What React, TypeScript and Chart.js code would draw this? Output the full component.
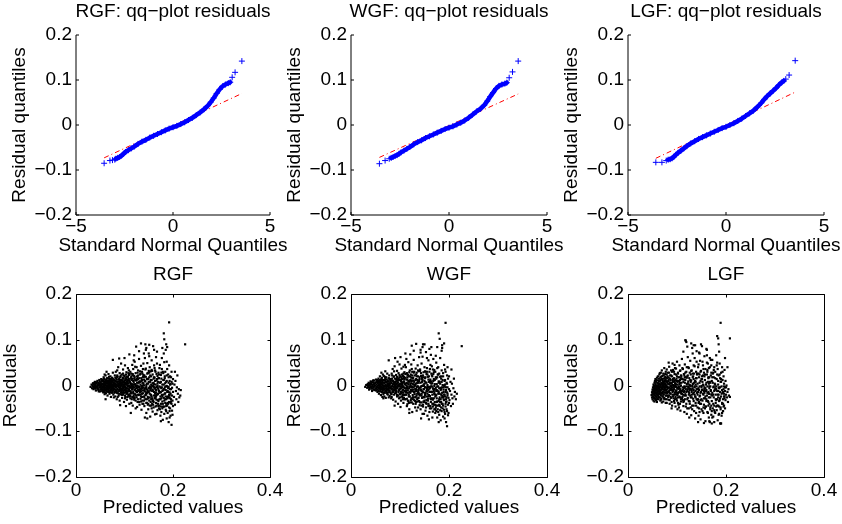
import React, { useEffect, useRef } from 'react';
import { Chart, registerables } from 'chart.js';

Chart.register(...registerables);

const FONT_FAMILY = '"Liberation Sans", Arial, Helvetica, sans-serif';
const FONT_SIZE = 19;

// ---- tick labels ----
const residualTickValues = [-0.2, -0.1, 0, 0.1, 0.2];
const quantileTickValues = [-5, 0, 5];
const predictedTickValues = [0, 0.2, 0.4];

// ---- panel names ----
const modelNames = ['RGF', 'WGF', 'LGF'];

// ---- qq-plot data: [standard normal quantile, residual quantile] ----
const rgfQQ = [
  [-3.55, -0.085], [-3.25, -0.079], [-3.12, -0.078], [-3.0, -0.077],
  [-2.95, -0.075], [-2.85, -0.073], [-2.75, -0.071], [-2.65, -0.068], [-2.55, -0.064], [-2.45, -0.06],
  [-2.3, -0.056], [-2.15, -0.052], [-2.0, -0.048], [-1.8, -0.042], [-1.6, -0.037], [-1.4, -0.033],
  [-1.2, -0.028], [-1.0, -0.024], [-0.8, -0.02], [-0.6, -0.016], [-0.4, -0.012], [-0.2, -0.008],
  [0, -0.005], [0.2, -0.002], [0.4, 0.002], [0.6, 0.006], [0.8, 0.011], [1.0, 0.016], [1.2, 0.022],
  [1.4, 0.028], [1.6, 0.035], [1.8, 0.043], [1.95, 0.051], [2.1, 0.06], [2.25, 0.07], [2.4, 0.079],
  [2.55, 0.086], [2.7, 0.09], [2.85, 0.093], [2.95, 0.095],
  [3.05, 0.106], [3.2, 0.117], [3.55, 0.142],
];
const wgfQQ = [
  [-3.55, -0.086], [-3.26, -0.079], [-3.05, -0.075],
  [-2.95, -0.073], [-2.85, -0.071], [-2.75, -0.069], [-2.65, -0.067], [-2.55, -0.064], [-2.45, -0.061],
  [-2.3, -0.057], [-2.15, -0.053], [-2.0, -0.049], [-1.8, -0.043], [-1.6, -0.038], [-1.4, -0.034],
  [-1.2, -0.029], [-1.0, -0.025], [-0.8, -0.021], [-0.6, -0.017], [-0.4, -0.013], [-0.2, -0.009],
  [0, -0.006], [0.2, -0.003], [0.4, 0.001], [0.6, 0.005], [0.8, 0.01], [1.0, 0.016], [1.2, 0.023],
  [1.4, 0.03], [1.6, 0.036], [1.8, 0.044], [1.95, 0.053], [2.1, 0.063], [2.25, 0.072], [2.4, 0.081],
  [2.55, 0.087], [2.7, 0.09], [2.85, 0.092], [2.95, 0.094],
  [3.07, 0.105], [3.24, 0.118], [3.53, 0.142],
];
const lgfQQ = [
  [-3.58, -0.083], [-3.27, -0.083], [-3.05, -0.079],
  [-2.95, -0.077], [-2.85, -0.076], [-2.75, -0.074], [-2.65, -0.07], [-2.55, -0.066], [-2.45, -0.062],
  [-2.3, -0.057], [-2.15, -0.052], [-2.0, -0.047], [-1.8, -0.041], [-1.6, -0.036], [-1.4, -0.031],
  [-1.2, -0.027], [-1.0, -0.023], [-0.8, -0.019], [-0.6, -0.015], [-0.4, -0.011], [-0.2, -0.007],
  [0, -0.004], [0.2, 0.0], [0.4, 0.004], [0.6, 0.009], [0.8, 0.014], [1.0, 0.02], [1.2, 0.026],
  [1.4, 0.032], [1.6, 0.04], [1.8, 0.049], [1.95, 0.057], [2.1, 0.064], [2.25, 0.07], [2.4, 0.076],
  [2.55, 0.082], [2.7, 0.089], [2.85, 0.095], [2.95, 0.098],
  [3.05, 0.102], [3.22, 0.111], [3.53, 0.143],
];

// ---- qq reference lines (through quartiles, over data range) ----
const rgfRefLine = [[-3.55, -0.073], [3.55, 0.07]];
const wgfRefLine = [[-3.55, -0.072], [3.53, 0.069]];
const lgfRefLine = [[-3.58, -0.074], [3.53, 0.073]];

// ---- residuals vs predicted: pairs of (predicted, residual) in thousandths ----
const rgfScatter = [
  30,-3, 32,2, 33,-6, 34,0, 35,5, 36,-8, 37,3, 38,-2, 39,8, 40,-5, 40,1, 41,-11, 42,6, 43,-3, 44,10, 44,-1,
  45,-7, 46,4, 47,-13, 47,0, 48,12, 49,-4, 49,3, 50,-9, 51,7, 51,-2, 52,14, 53,-6, 53,1, 54,-12, 54,9, 55,-3, 55,4,
  56,-15, 56,11, 57,-1, 57,18, 58,-8, 58,5, 59,-19, 59,2, 60,13, 60,-4, 61,-11, 61,22, 62,0, 62,-17, 63,8, 63,-6,
  64,16, 64,-2, 65,-22, 65,4, 66,10, 66,-9, 67,-14, 67,25, 68,1, 68,-5, 69,14, 69,-18, 70,6, 70,-1, 71,-10, 71,20,
  72,3, 72,-25, 73,-7, 73,11, 74,17, 74,-3, 75,-13, 75,8, 76,0, 76,28, 77,-20, 77,5, 78,12, 78,-8, 79,-1, 79,-16,
  80,22, 80,3, 58,-12, 60,9, 62,6, 64,-13, 66,-3, 68,19, 70,-15, 72,9, 74,-11, 76,-6, 78,-26, 59,24, 61,-30, 63,30,
  67,-2, 69,3, 71,-5, 73,1, 75,-1, 77,12,
  81,-24, 81,10, 82,-3, 82,30, 83,15, 83,-12, 84,-30, 84,2, 85,22, 85,-7, 86,-17, 86,8, 87,40, 87,-1, 88,-22, 88,13,
  89,4, 89,-10, 90,27, 90,-33, 91,-5, 91,18, 92,7, 92,-19, 93,48, 93,0, 94,-13, 94,24, 95,-27, 95,11, 96,3, 96,-8,
  97,35, 97,-20, 98,-2, 98,16, 99,-36, 99,6, 100,21, 100,-11, 101,-4, 101,44, 102,12, 102,-25, 103,-15, 103,2,
  104,29, 104,-6, 105,9, 105,-31, 106,-18, 106,19, 107,-1, 107,38, 108,5, 108,-22, 109,14, 109,-9, 110,-40, 110,25,
  82,-14, 84,19, 86,-25, 88,-4, 90,6, 92,-7, 94,1, 96,-16, 98,9, 100,-1, 102,-9, 104,14, 106,4, 108,-12, 110,-3,
  85,33, 91,-43, 97,26, 103,-45, 109,33,
  111,-12, 111,8, 112,30, 112,-28, 113,-5, 113,17, 114,-38, 114,1, 115,12, 115,-17, 116,45, 116,-8, 117,22, 117,-44,
  118,-2, 118,36, 119,-23, 119,7, 120,15, 120,-31, 121,-10, 121,52, 122,3, 122,-19, 123,27, 123,-50, 124,-6, 124,11,
  125,40, 125,-26, 126,-14, 126,20, 127,0, 127,-36, 128,33, 128,-9, 129,-21, 129,6, 130,58, 130,-3, 131,16, 131,-42,
  132,-15, 132,24, 133,-29, 133,2, 134,43, 134,-7, 135,10, 135,-53, 136,-18, 136,30, 137,-1, 137,-33, 138,19, 138,-11,
  139,5, 139,48, 140,-24, 140,13, 112,-18, 114,20, 116,-25, 118,10, 120,-4, 122,41, 124,-13, 126,-47, 128,14, 130,-20,
  132,8, 134,-35, 136,-5, 138,36, 140,0, 113,-60, 119,55, 125,-1, 131,-8, 137,26, 115,3, 121,-27, 127,18, 133,-12, 139,-40,
  141,-45, 141,22, 142,-6, 142,60, 143,9, 143,-30, 144,-17, 144,37, 145,-60, 145,1, 146,14, 146,-38, 147,49, 147,-9,
  148,-25, 148,27, 149,4, 149,-52, 150,70, 150,-14, 151,-33, 151,18, 152,-2, 152,40, 153,-68, 153,8, 154,-20, 154,31,
  155,-44, 155,-5, 156,55, 156,12, 157,-28, 157,-1, 158,24, 158,-57, 159,86, 159,-12, 160,6, 160,-36, 161,44, 161,-22,
  162,-7, 162,17, 163,-63, 163,33, 164,2, 164,-46, 165,62, 165,-15, 166,-31, 166,11, 167,-3, 167,48, 168,-54, 168,21,
  169,-19, 169,-40, 170,28, 170,-9, 142,-70, 144,78, 146,-15, 148,-42, 150,32, 152,-26, 154,-8, 156,-50, 158,5, 160,-3,
  162,38, 164,-28, 166,-62, 168,-1, 170,-45, 143,90, 147,-72, 151,64, 155,20, 159,-34, 163,-18, 167,74, 145,-8, 149,15,
  153,-11, 157,-40, 161,3, 165,-24, 169,8,
  171,-50, 171,16, 172,-2, 172,-30, 173,45, 173,-14, 174,-66, 174,7, 175,23, 175,-40, 176,-6, 176,-58, 177,60, 177,-21,
  178,2, 178,-35, 179,-75, 179,30, 180,-10, 180,-47, 181,12, 181,-27, 182,51, 182,-62, 183,-4, 183,20, 184,-38, 184,-17,
  185,78, 185,-53, 186,8, 186,-30, 187,-72, 187,-1, 188,36, 188,-44, 189,-12, 189,-60, 190,24, 190,-24, 191,-3, 191,-80,
  192,44, 192,-36, 193,-15, 193,10, 194,-50, 194,-28, 195,3, 195,-66, 196,18, 196,-8, 197,-40, 197,30, 198,-22, 198,-55,
  199,4, 199,-33, 200,-14, 200,14, 172,38, 174,-24, 176,15, 178,-50, 180,27, 182,-8, 184,5, 186,-45, 188,-25, 190,-40,
  192,-20, 194,20, 196,-35, 198,-5, 200,-45, 175,-78, 181,70, 187,52, 193,-70, 199,-64,
  202,-25, 203,2, 204,-42, 205,10, 206,-12, 207,-30, 208,-4, 209,22, 210,-18, 211,-36, 212,-8, 213,-26, 215,-22, 216,-10,
  192,138, 181,114, 182,101, 225,90, 197,-86, 188,84, 186,90, 204,30, 178,82,
  124,85, 134,92, 151,89, 161,78, 76,56, 89,59, 130,75, 140,70, 145,82, 120,66, 100,60, 110,68,
  35,-2, 36,3, 37,-5, 38,6, 39,-1, 40,-7, 41,4, 42,-2, 43,7, 44,-6, 45,2, 46,-10, 47,6, 48,-4, 49,9, 50,1, 50,-13,
  51,-5, 52,4, 52,-9, 53,11, 54,-2, 55,-8, 55,13, 56,3, 56,-4, 57,9, 57,-11, 58,-1, 58,15, 59,6, 59,-7, 60,-15, 60,2,
  61,8, 61,-5, 62,-10, 62,12, 63,-2, 63,4, 64,-7, 64,10, 65,0, 65,-13, 66,6, 66,15, 67,-5, 67,3, 68,-11, 68,9, 69,-1,
  69,-7, 70,12, 70,3, 71,-14, 71,5, 72,-3, 72,14, 73,-9, 73,6, 74,2, 74,-16, 75,10, 75,-6, 76,-1, 76,15, 77,-10, 77,2,
  78,7, 78,-3, 79,-13, 79,11, 80,0, 80,-8, 81,5, 81,17, 82,-10, 82,1, 83,-4, 83,9, 84,-16, 84,13, 85,-1, 85,6, 86,-9,
  86,19, 87,3, 87,-13, 88,-2, 88,9, 89,-18, 89,14, 90,-5, 90,1, 91,10, 91,-10, 92,-1, 92,21, 93,-15, 93,5, 94,-7,
  94,12, 95,2, 95,-20, 96,17, 96,-4, 97,-11, 97,7, 98,22, 98,-6, 99,-16, 99,1, 100,11, 100,-9, 101,-22, 101,6,
  102,16, 102,-3, 103,-12, 103,24, 104,3, 104,-18, 105,-6, 105,13, 106,-25, 106,8, 107,19, 107,-13, 108,-2, 108,27,
  109,-8, 109,-20, 110,10, 110,0, 112,-23, 113,4, 114,14, 115,-9, 116,-3, 117,25, 118,-14, 119,-27, 120,2, 121,18,
  122,-9, 123,-1, 124,-22, 125,12, 126,-5, 127,28, 128,-30, 129,-12, 130,7, 131,-3, 132,31, 133,-20, 134,-13, 135,16,
  136,-25, 137,6, 138,-5, 139,23, 140,-33, 141,-10, 142,10, 143,-21, 144,19, 145,-3, 146,-30, 147,26, 148,-12, 149,-40,
  150,8, 151,-6, 152,-18, 153,22, 154,-36, 155,2, 156,-24, 157,32, 158,-9, 159,-42, 160,15, 161,-14, 162,-28, 163,10,
  164,-5, 165,-38, 166,25, 167,-20, 168,4, 169,-32, 170,16, 171,-12, 172,-44, 173,6, 174,-30, 175,-15, 176,28, 177,-4,
  178,-24, 179,-46, 180,12, 181,-8, 182,-33, 183,-18, 184,30, 185,-2, 186,-40, 187,10, 188,-14, 189,-28, 190,-6,
  191,18, 192,-48, 193,-22, 194,2, 195,-38,
  90,-12, 91,4, 92,12, 93,-8, 94,-20, 95,7, 96,-2, 97,15, 98,-14, 99,-4, 100,8, 101,-28, 102,3, 103,-7, 104,19, 105,-16,
  106,0, 107,11, 108,-9, 109,23, 110,-24, 111,-3, 112,6, 113,-14, 114,26, 115,-30, 116,15, 117,-6, 118,2, 119,-18,
  120,21, 121,-9, 122,12, 123,-33, 124,0, 125,-12, 126,6, 127,-20, 128,22, 129,-3, 130,-36, 131,9, 132,-11, 133,26,
  134,-24, 135,-1, 136,12, 137,-40, 138,-17, 139,2, 140,19, 141,-26, 142,-13, 143,35, 144,-5, 145,-38, 146,4, 147,-16,
  148,14, 149,-28, 150,-6, 151,28, 152,-44, 153,-3, 154,12, 155,-21, 156,34, 157,-12, 158,-32, 159,0, 160,-48, 161,18,
  162,-4, 163,-26, 164,30, 165,-10, 166,-44, 167,14, 168,-18, 169,-6, 170,-34, 171,24, 172,-16, 173,-52, 174,-4, 175,8,
  176,-28, 177,36, 178,-12, 179,-40, 180,-20, 181,2, 182,-46, 183,16, 184,-30, 185,-10, 186,-56, 187,22, 188,-2,
  189,-38, 190,-14, 191,6, 192,-26, 193,-56, 194,-8, 195,-18, 196,-30, 197,8, 185,-24, 175,-46, 165,-22, 155,-30,
  145,-20, 135,-8, 125,14, 115,-1, 105,5, 95,-10,
];

const wgfScatter = [
  29,-3, 31,1, 33,-5, 34,3, 35,-1, 36,6, 37,-9, 38,0, 39,-4, 40,9, 41,2, 42,-7, 42,4, 43,-12, 44,1, 45,7, 46,-3, 46,-9,
  47,11, 48,-1, 49,5, 50,-6, 51,13, 51,-11, 52,2, 53,-4, 53,8, 54,-14, 55,0, 55,10,
  56,-7, 56,15, 57,-18, 57,3, 58,9, 58,-3, 59,-13, 59,20, 60,-1, 60,6, 61,-21, 61,12, 62,-8, 62,2, 63,17, 63,-15,
  64,-4, 64,8, 65,24, 65,-11, 66,0, 66,-19, 67,11, 67,-6, 68,-24, 68,5, 69,19, 69,-2, 70,-12, 70,13, 71,2, 71,-27,
  72,-8, 72,18, 73,7, 73,-16, 74,-2, 74,26, 75,-20, 75,10, 76,4, 76,-10, 77,16, 77,-4, 78,-14, 78,22, 79,1, 79,-23,
  80,9, 80,-6, 57,8, 59,-7, 61,-3, 63,4, 65,-5, 67,21, 69,-16, 71,8, 73,-9, 75,1, 77,-26, 79,13, 62,28, 66,-28,
  70,31, 74,-18, 78,5, 64,-25, 68,12, 72,-1,
  81,14, 81,-18, 82,-6, 82,5, 83,26, 83,-25, 84,-2, 84,11, 85,-14, 85,36, 86,3, 86,-31, 87,19, 87,-8, 88,-20, 88,6,
  89,42, 89,-3, 90,-11, 90,15, 91,-35, 91,2, 92,23, 92,-16, 93,-6, 93,9, 94,32, 94,-24, 95,-1, 95,17, 96,-40, 96,7,
  97,-12, 97,27, 98,0, 98,-28, 99,13, 99,46, 100,-7, 100,-19, 101,20, 101,4, 102,-33, 102,10, 103,-2, 103,37,
  104,-15, 104,24, 105,1, 105,-26, 106,-9, 106,15, 107,41, 107,-38, 108,-4, 108,8, 109,-21, 109,29, 110,-12, 110,3,
  82,-28, 84,22, 86,-12, 88,31, 90,-1, 92,-7, 94,4, 96,-22, 98,12, 100,2, 102,-14, 104,7, 106,-30, 108,19, 110,45,
  83,-9, 89,-44, 95,52, 101,-47, 107,26,
  111,-30, 111,17, 112,-7, 112,40, 113,6, 113,-20, 114,-45, 114,27, 115,-2, 115,13, 116,-33, 116,-11, 117,51, 117,3,
  118,-24, 118,20, 119,-6, 119,-52, 120,33, 120,9, 121,-16, 121,-37, 122,24, 122,-1, 123,-28, 123,46, 124,11, 124,-9,
  125,-58, 125,30, 126,4, 126,-21, 127,17, 127,-40, 128,-4, 128,56, 129,-32, 129,8, 130,22, 130,-13, 131,-48, 131,1,
  132,37, 132,-25, 133,-8, 133,14, 134,-55, 134,28, 135,-18, 135,5, 136,44, 136,-35, 137,-2, 137,20, 138,-27, 138,-10,
  139,62, 139,10, 140,-43, 140,-5, 112,-15, 114,5, 116,23, 118,-38, 120,-3, 122,-10, 124,36, 126,-30, 128,-14, 130,-1,
  132,12, 134,-22, 136,8, 138,31, 140,18, 113,58, 119,-60, 125,-12, 131,-26, 137,-48, 115,-41, 121,12, 127,2, 133,-36, 139,-19,
  141,-20, 141,35, 142,-52, 142,6, 143,-9, 143,21, 144,-37, 144,48, 145,-1, 145,-27, 146,63, 146,12, 147,-46, 147,-15,
  148,29, 148,2, 149,-62, 149,-8, 150,40, 150,-33, 151,16, 151,-21, 152,-55, 152,7, 153,73, 153,-4, 154,25, 154,-40,
  155,-13, 155,38, 156,-66, 156,1, 157,19, 157,-29, 158,55, 158,-10, 159,-44, 159,8, 160,30, 160,-58, 161,-5, 161,-23,
  162,45, 162,13, 163,-36, 163,-2, 164,84, 164,-50, 165,22, 165,-14, 166,-70, 166,5, 167,35, 167,-31, 168,-8, 168,58,
  169,-42, 169,14, 170,-19, 170,-1, 142,78, 144,-12, 146,-62, 148,-35, 150,10, 152,30, 154,-24, 156,-18, 158,-45, 160,-7,
  162,-28, 164,4, 166,-40, 168,25, 170,-52, 143,-72, 147,90, 151,-4, 155,60, 159,-74, 163,67, 167,-57, 145,18, 149,-25,
  153,-38, 157,-3, 161,10, 165,42, 169,-12,
  171,-36, 171,12, 172,-60, 172,30, 173,-5, 173,-20, 174,50, 174,-44, 175,3, 175,-28, 176,-70, 176,18, 177,-12, 177,-52,
  178,40, 178,-2, 179,-34, 179,9, 180,-64, 180,26, 181,-18, 181,-45, 182,60, 182,4, 183,-30, 183,-76, 184,15, 184,-8,
  185,-56, 185,33, 186,-22, 186,88, 187,1, 187,-40, 188,-68, 188,20, 189,-14, 189,-30, 190,45, 190,-53, 191,-2, 191,10,
  192,-62, 192,-24, 193,30, 193,-46, 194,-10, 194,-80, 195,6, 195,-35, 196,22, 196,-56, 197,-18, 197,-4, 198,-42, 198,15,
  199,-27, 199,-60, 200,-8, 200,20, 172,-42, 174,-12, 176,38, 178,-58, 180,-6, 182,-36, 184,-48, 186,-4, 188,-25, 190,0,
  192,35, 194,-30, 196,-15, 198,-65, 200,-38, 173,65, 179,-80, 185,76, 191,-72, 197,40,
  201,-32, 202,-12, 203,8, 204,-45, 205,-20, 206,4, 207,-28, 208,-40, 209,-6, 210,15, 211,-24, 212,-14, 214,-30, 216,-18,
  193,137, 179,114, 181,102, 226,86, 196,-89, 186,82, 190,92, 205,35, 176,84,
  124,87, 133,91, 150,90, 160,80, 77,55, 90,60, 128,76, 142,72, 146,84, 121,68, 101,62, 111,70,
  34,1, 36,-4, 37,4, 38,-7, 39,2, 40,5, 41,-3, 42,8, 43,-6, 44,-1, 45,11, 46,-5, 47,3, 48,-10, 49,0, 50,7, 51,-7,
  52,-2, 53,12, 54,5, 54,-9, 55,-4, 56,8, 56,-12, 57,1, 58,-6, 58,12, 59,-2, 60,9, 60,-10, 61,3, 62,-5, 62,14, 63,-13,
  63,7, 64,1, 65,-8, 65,12, 66,-3, 67,-15, 67,6, 68,0, 68,-9, 69,11, 70,-6, 70,16, 71,-2, 72,7, 72,-12, 73,-4, 73,13,
  74,-8, 75,3, 75,-15, 76,9, 77,-1, 77,-7, 78,15, 79,-11, 79,4, 80,-4, 81,10, 81,-15, 82,-2, 83,6, 83,-19, 84,15,
  84,-7, 85,1, 86,-14, 86,10, 87,-3, 88,20, 88,-10, 89,3, 90,-17, 90,8, 91,-5, 92,14, 92,-12, 93,2, 94,-21, 94,19,
  95,-6, 96,6, 97,-15, 97,14, 98,-2, 99,23, 99,-9, 100,3, 101,-19, 101,12, 102,-6, 103,18, 104,-24, 104,4, 105,-11,
  106,21, 106,-2, 107,-16, 108,9, 108,-27, 109,14, 110,-6, 111,25, 112,-12, 113,0, 114,-29, 115,18, 116,-7, 117,10,
  118,-20, 119,29, 120,-14, 121,3, 122,-32, 123,17, 124,-4, 125,22, 126,-26, 127,-9, 128,11, 129,30, 130,-19, 131,-34,
  132,4, 133,-12, 134,20, 135,-2, 136,-28, 137,33, 138,-16, 139,-6, 140,14, 141,-37, 142,-4, 143,27, 144,-22, 145,8,
  146,-13, 147,-42, 148,18, 149,-1, 150,-26, 151,31, 152,-17, 153,-38, 154,6, 155,-8, 156,24, 157,-33, 158,13, 159,-21,
  160,-3, 161,36, 162,-45, 163,-14, 164,9, 165,-28, 166,20, 167,-6, 168,-40, 169,29, 170,-16, 171,3, 172,-24, 173,-48,
  174,15, 175,-10, 176,-35, 177,24, 178,-18, 179,6, 180,-42, 181,-26, 182,19, 183,-5, 184,-36, 185,8, 186,-16, 187,-50,
  188,27, 189,-9, 190,-32, 191,-20, 192,12, 193,-40, 194,-4, 195,-26,
  90,-8, 91,6, 92,-14, 93,10, 94,-3, 95,-22, 96,13, 97,1, 98,-10, 99,18, 100,-26, 101,-2, 102,9, 103,-17, 104,14,
  105,-4, 106,-21, 107,6, 108,18, 109,-12, 110,-30, 111,2, 112,-20, 113,13, 114,-6, 115,24, 116,-16, 117,-34, 118,8,
  119,-2, 120,-24, 121,20, 122,-13, 123,5, 124,-37, 125,-3, 126,16, 127,-26, 128,28, 129,-15, 130,2, 131,-8, 132,-40,
  133,24, 134,-4, 135,-30, 136,12, 137,-14, 138,6, 139,-34, 140,-22, 141,32, 142,-10, 143,-2, 144,-44, 145,14, 146,-26,
  147,22, 148,-8, 149,-36, 150,4, 151,-16, 152,18, 153,-48, 154,-12, 155,30, 156,-6, 157,-24, 158,-40, 159,20, 160,-14,
  161,-50, 162,6, 163,-30, 164,26, 165,-2, 166,-20, 167,-46, 168,10, 169,-28, 170,34, 171,-8, 172,-52, 173,18, 174,-22,
  175,-36, 176,-2, 177,-44, 178,24, 179,-14, 180,-30, 181,8, 182,-54, 183,-10, 184,20, 185,-40, 186,-26, 187,12,
  188,-44, 189,-4, 190,-20, 191,-58, 192,2, 193,-14, 194,-36, 195,-52, 196,4, 197,-22, 184,-20, 174,-56, 164,-14,
  154,-32, 144,-18, 134,-10, 124,10, 114,-4, 104,2, 94,12,
];

const lgfScatter = [
  48,-21, 49,-15, 49,-26, 50,-9, 50,-30, 50,-19, 51,-4, 51,-24, 51,-13, 52,2, 52,-33, 52,-17, 52,-8, 53,-1, 53,-27,
  53,-12, 54,6, 54,-20, 54,-35, 54,-5, 55,-15, 55,10, 55,-2, 55,-29, 56,-9, 56,3, 56,-22, 56,14, 57,-32, 57,-6, 57,8,
  57,-16, 58,0, 58,-25, 58,12, 58,-11, 59,-3, 59,17, 59,-36, 59,-19, 60,5, 60,-8, 60,-28, 60,-14, 61,11, 61,-1,
  61,-22, 61,20, 62,-12, 62,-5, 62,2, 62,-30,
  63,15, 63,-18, 63,-7, 64,4, 64,-26, 64,24, 65,-3, 65,-14, 65,9, 66,-33, 66,18, 66,0, 67,-10, 67,28, 67,-21, 68,6,
  68,-5, 68,-29, 69,13, 69,-16, 69,33, 70,-1, 70,-8, 70,21, 71,-24, 71,3, 71,10, 72,-13, 72,-35, 72,26, 73,1, 73,-19,
  73,15, 74,-6, 74,38, 74,-27, 75,8, 75,-11, 75,-2, 76,19, 76,-30, 76,4, 77,-16, 77,12, 77,30, 78,-4, 78,-22, 78,0,
  79,-9, 79,24, 79,-38, 80,6, 80,-14, 80,16, 64,-11, 66,-19, 68,14, 70,-17, 72,6, 74,-3, 76,-8, 78,9, 80,-3, 65,27,
  69,-37, 73,-28, 77,-38, 79,35, 67,2, 71,-4, 75,16,
  81,-22, 81,28, 82,-5, 82,9, 83,-31, 83,17, 84,-12, 84,41, 85,2, 85,-40, 86,22, 86,-8, 87,-18, 87,12, 88,33, 88,-27,
  89,-3, 89,6, 90,-44, 90,20, 91,-14, 91,48, 92,1, 92,-24, 93,14, 93,-9, 94,-34, 94,30, 95,-1, 95,9, 96,-19, 96,38,
  97,-46, 97,4, 98,24, 98,-11, 99,-29, 99,15, 100,52, 100,-5, 101,-21, 101,8, 102,-38, 102,28, 103,-2, 103,18,
  104,-15, 104,-48, 105,44, 105,3, 106,-26, 106,12, 107,-8, 107,33, 108,-35, 108,0, 109,21, 109,-18, 110,58, 110,-12,
  82,-15, 84,-22, 86,5, 88,-6, 90,0, 92,14, 94,-3, 96,-30, 98,2, 100,-16, 102,-7, 104,10, 106,-40, 108,16, 110,-28,
  83,50, 89,-50, 95,45, 101,-52, 107,-55,
  111,-25, 111,15, 112,36, 112,-4, 113,-45, 113,8, 114,-14, 114,25, 115,-58, 115,-2, 116,46, 116,-30, 117,12, 117,-19,
  118,98, 118,-8, 119,30, 119,-40, 120,3, 120,-62, 121,20, 121,-12, 122,62, 122,-27, 123,-3, 123,9, 124,-50, 124,38,
  125,-17, 125,16, 126,-35, 126,1, 127,54, 127,-22, 128,-7, 128,24, 129,-65, 129,11, 130,33, 130,-14, 131,-44, 131,-1,
  132,70, 132,18, 133,-29, 133,4, 134,-10, 134,44, 135,-56, 135,26, 136,-20, 136,-4, 137,88, 137,10, 138,-38, 138,-12,
  139,30, 139,-60, 140,-2, 140,52, 112,-20, 114,-34, 116,6, 118,18, 120,40, 122,-8, 124,-14, 126,28, 128,-48, 130,-26,
  132,-6, 134,14, 136,60, 138,2, 140,-30, 113,74, 119,95, 125,-70, 131,82, 137,-72, 115,22, 121,-50, 127,-1, 133,-18, 139,16,
  141,-16, 141,24, 142,-48, 142,4, 143,40, 143,-30, 144,-6, 144,-66, 145,18, 145,72, 146,-24, 146,-2, 147,54, 147,-40,
  148,10, 148,-74, 149,-14, 149,32, 150,-52, 150,-1, 151,86, 151,20, 152,-33, 152,-9, 153,44, 153,2, 154,-60, 154,-20,
  155,28, 155,-42, 156,-4, 156,64, 157,-28, 157,12, 158,-78, 158,36, 159,-12, 159,-46, 160,80, 160,6, 161,-22, 161,24,
  162,-58, 162,-2, 163,48, 163,-34, 164,-14, 164,16, 165,-70, 165,38, 166,-6, 166,-40, 167,60, 167,8, 168,-26, 168,-52,
  169,22, 169,-10, 170,-64, 170,44, 142,-20, 144,26, 146,-58, 148,-32, 150,14, 152,52, 154,0, 156,-16, 158,-6, 160,-30,
  162,30, 164,-44, 166,18, 168,-2, 170,-20, 143,-80, 149,90, 155,-82, 161,66, 167,-80, 145,-36, 151,-10, 153,22, 157,-50,
  163,8, 165,-18, 169,56,
  171,-34, 171,10, 172,-16, 172,56, 173,-50, 173,26, 174,-4, 174,-68, 175,18, 175,-26, 176,-44, 176,40, 177,-10, 177,4,
  178,-60, 178,30, 179,-20, 179,-38, 180,66, 180,-2, 181,-54, 181,14, 182,-30, 182,-12, 183,-76, 183,36, 184,2, 184,-44,
  185,-20, 185,22, 186,-62, 186,-6, 187,48, 187,-32, 188,-14, 188,-83, 189,8, 189,-48, 190,28, 190,-24, 191,-66, 191,-2,
  192,40, 192,-40, 193,-16, 193,12, 194,-56, 194,-30, 195,20, 195,-8, 196,-44, 196,4, 197,-24, 197,34, 198,-12, 198,-50,
  199,-32, 199,10, 200,-20, 200,-4, 201,0, 202,-26, 203,-14, 204,-36, 205,-8, 206,-22, 208,-25,
  172,-70, 176,-80, 182,50, 186,74, 190,-83, 178,-6, 184,-26, 188,16, 192,-60, 196,-18, 174,28, 180,-46,
  189,137, 182,108, 184,103, 208,103, 171,-83, 189,-83, 185,90, 203,40, 198,60, 166,-78,
  117,99, 134,88, 161,78, 121,85, 140,75, 129,92, 146,70,
  50,-14, 51,-20, 52,-10, 52,-26, 53,-6, 53,-18, 54,-12, 54,-28, 55,-8, 55,-22, 56,-16, 56,0, 57,-24, 57,-11, 58,-4,
  58,-18, 59,-30, 59,-9, 60,-1, 60,-21, 61,-13, 61,5, 62,-25, 62,-17, 63,-3, 63,9, 64,-19, 64,-8, 65,2, 65,-26, 66,-12,
  66,12, 67,-4, 67,-31, 68,-16, 68,19, 69,-7, 69,4, 70,-24, 70,14, 71,-14, 71,-1, 72,8, 72,-20, 73,-9, 73,22, 74,-29,
  74,3, 75,-15, 75,11, 76,-4, 76,25, 77,-22, 77,1, 78,-11, 78,17, 79,-2, 79,-30, 80,9, 80,-17, 81,-7, 81,20, 82,-25,
  82,3, 83,12, 83,-14, 84,-4, 84,28, 85,-32, 85,7, 86,-17, 86,15, 87,-1, 87,-25, 88,22, 88,-10, 89,4, 89,-36, 90,30,
  90,-5, 91,-20, 91,11, 92,-12, 92,34, 93,-28, 93,0, 94,16, 94,-8, 95,-38, 95,25, 96,5, 96,-15, 97,-25, 97,12, 98,-3,
  98,37, 99,-20, 99,-11, 100,20, 100,-33, 101,2, 102,-17, 102,26, 103,-42, 103,9, 104,-7, 105,-24, 105,18, 106,32,
  106,-12, 107,-2, 108,-30, 108,22, 109,6, 110,-18, 111,38, 112,-9, 113,-36, 114,13, 115,-22, 116,-3, 117,28, 118,-46,
  119,-14, 120,17, 121,-30, 122,5, 123,40, 124,-20, 125,-6, 126,-40, 127,12, 128,-26, 129,32, 130,-10, 131,-52, 132,3,
  133,20, 134,-34, 135,-15, 136,42, 137,-24, 138,8, 139,-44, 140,-8, 141,26, 142,-32, 143,-14, 144,46, 145,-50, 146,6,
  147,-22, 148,30, 149,-40, 150,-4, 151,14, 152,-56, 153,-18, 154,36, 155,-28, 156,-8, 157,24, 158,-46, 159,2, 160,-34,
  161,50, 162,-16, 163,-60, 164,18, 165,-26, 166,-2, 167,40, 168,-48, 169,-12, 170,28, 171,-56, 172,-22, 173,6, 174,-40,
  175,34, 176,-12, 177,-58, 178,16, 179,-30, 180,-8, 181,44, 182,-44, 183,-20, 184,10, 185,-64, 186,-34, 187,24, 188,-4,
  189,-52, 190,8, 191,-18, 192,-38, 193,30, 194,-14, 195,-46, 196,-2, 197,-28,
  90,-10, 92,8, 94,-20, 96,0, 98,-14, 100,10, 102,-26, 104,-4, 106,6, 108,-16, 110,14, 112,-32, 114,-6, 116,18, 118,-22,
  120,-2, 122,22, 124,-34, 126,-10, 128,8, 130,-20, 132,26, 134,-44, 136,-2, 138,-26, 140,16, 142,-8, 144,-38, 146,24,
  148,-16, 150,-30, 152,8, 154,-48, 156,20, 158,-24, 160,-10, 162,34, 164,-36, 166,-18, 168,6, 170,-44, 172,18, 174,-20,
  176,-54, 178,2, 180,-32, 182,24, 184,-12, 186,-46, 188,-28, 190,14, 192,-10, 194,-40, 196,-24, 198,-4, 185,-4, 175,-2,
  165,4, 155,-12, 145,-10, 135,6, 125,2, 115,-12, 105,-14, 95,10,
];

// ---- layout (pixels) ----
const COLS = [
  { left: 76, width: 194 },
  { left: 351, width: 196 },
  { left: 628, width: 196 },
];
const ROWS = [
  { canvasTop: 0, plotTop: 35, titleOffset: 23, plotH: 180, tickPad: 0 },
  { canvasTop: 262, plotTop: 32, titleOffset: 19, plotH: 183, tickPad: 2 },
];
const Y_AXIS_W = 68;
const X_AXIS_H = 42;
const RIGHT_PAD = 24;
const TICK_LEN = 3;

function yAxisWidth(row: number, col: number) {
  return row === 1 && col === 0 ? 77 : Y_AXIS_W;
}

const font = { family: FONT_FAMILY, size: FONT_SIZE, weight: 'normal' as const };

function fmtTick(v: number) {
  const r = Math.round(v * 1000) / 1000;
  if (r === 0) return '0';
  return (r < 0 ? '\u2212' : '') + String(Math.abs(r));
}

const framePlugin = {
  id: 'frame',
  afterDatasetsDraw(chart: any, _args: any, opts: any) {
    const { ctx, chartArea, scales } = chart;
    const box = !!opts.box;
    const off = box ? 0.5 : 0;
    const L = Math.round(chartArea.left) + off;
    const R = Math.round(chartArea.right) + off;
    const T = Math.round(chartArea.top) + off;
    const B = Math.round(chartArea.bottom) + off;
    ctx.save();
    ctx.strokeStyle = '#000';
    ctx.lineWidth = 1;
    ctx.beginPath();
    if (box) {
      ctx.rect(L, T, R - L, B - T);
    } else {
      ctx.moveTo(L, T);
      ctx.lineTo(L, B);
      ctx.lineTo(R, B);
    }
    scales.x.ticks.forEach((t: any) => {
      const px = Math.round(scales.x.getPixelForValue(t.value)) + off;
      ctx.moveTo(px, B);
      ctx.lineTo(px, B - TICK_LEN);
      if (box) {
        ctx.moveTo(px, T);
        ctx.lineTo(px, T + TICK_LEN);
      }
    });
    scales.y.ticks.forEach((t: any) => {
      const py = Math.round(scales.y.getPixelForValue(t.value)) + off;
      ctx.moveTo(L, py);
      ctx.lineTo(L + TICK_LEN, py);
      if (box) {
        ctx.moveTo(R, py);
        ctx.lineTo(R - TICK_LEN, py);
      }
    });
    ctx.stroke();
    ctx.restore();
  },
};

const textPlugin = {
  id: 'panelText',
  afterDraw(chart: any, _args: any, opts: any) {
    const { ctx, chartArea } = chart;
    const cx = (chartArea.left + chartArea.right) / 2;
    ctx.save();
    ctx.fillStyle = '#000';
    ctx.font = `${FONT_SIZE}px ${FONT_FAMILY}`;
    ctx.textAlign = 'center';
    ctx.textBaseline = 'middle';
    ctx.fillText(opts.title, cx, chartArea.top - opts.titleOffset);
    ctx.fillText(opts.xTitle, cx, chartArea.bottom + X_AXIS_H - 11.4);
    ctx.restore();
  },
};

function pairsToPoints(flat: number[]) {
  const pts: { x: number; y: number }[] = [];
  for (let i = 0; i + 1 < flat.length; i += 2) pts.push({ x: flat[i] / 1000, y: flat[i + 1] / 1000 });
  return pts;
}
const toXY = (arr: number[][]) => arr.map(([x, y]) => ({ x, y }));

function baseOptions(row: number, col: number, title: string, xTitle: string, yTitle: string, xMin: number, xMax: number, xTicks: number[]) {
  const r = ROWS[row];
  const yW = yAxisWidth(row, col);
  return {
    animation: false,
    responsive: false,
    events: [],
    layout: { padding: { left: 0, right: RIGHT_PAD, top: r.plotTop, bottom: 0 } },
    plugins: {
      legend: { display: false },
      tooltip: { enabled: false },
      title: { display: false },
      frame: { box: row === 1 },
      panelText: { title, xTitle, titleOffset: r.titleOffset },
    },
    scales: {
      x: {
        type: 'linear',
        min: xMin,
        max: xMax,
        afterBuildTicks: (s: any) => {
          s.ticks = xTicks.map((v) => ({ value: v }));
        },
        afterFit: (s: any) => {
          s.height = X_AXIS_H;
        },
        ticks: { callback: fmtTick, color: '#000', font, padding: r.tickPad, maxRotation: 0, autoSkip: false },
        grid: { display: false, drawTicks: false },
        border: { display: false },
      },
      y: {
        type: 'linear',
        min: -0.2,
        max: 0.2,
        afterBuildTicks: (s: any) => {
          s.ticks = residualTickValues.map((v) => ({ value: v }));
        },
        afterFit: (s: any) => {
          s.width = yW;
        },
        ticks: { callback: fmtTick, color: '#000', font, padding: 4, autoSkip: false },
        grid: { display: false, drawTicks: false },
        border: { display: false },
        title: { display: true, text: yTitle, color: '#000', font, padding: { top: 0, bottom: 0 } },
      },
    },
  };
}

function qqConfig(col: number) {
  const qq = [rgfQQ, wgfQQ, lgfQQ][col];
  const ref = [rgfRefLine, wgfRefLine, lgfRefLine][col];
  const body = qq.filter(([x]) => Math.abs(x) <= 2.96);
  const tails = qq.filter(([x]) => Math.abs(x) > 2.96);
  const blue = 'rgb(0,0,255)';
  return {
    type: 'scatter',
    data: {
      datasets: [
        {
          data: toXY(body),
          showLine: true,
          borderColor: blue,
          borderWidth: 4.5,
          borderCapStyle: 'round',
          borderJoinStyle: 'round',
          pointStyle: 'cross',
          pointRadius: 3,
          pointBorderColor: blue,
          pointBorderWidth: 1,
          pointBackgroundColor: blue,
        },
        {
          data: toXY(tails),
          showLine: false,
          pointStyle: 'cross',
          pointRadius: 3,
          pointBorderColor: blue,
          pointBorderWidth: 1,
        },
        {
          data: toXY(ref),
          showLine: true,
          borderColor: 'rgb(255,0,0)',
          borderWidth: 1,
          borderDash: [5, 3, 1, 3],
          pointRadius: 0,
        },
      ],
    },
    options: baseOptions(0, col, `${modelNames[col]}: qq\u2212plot residuals`, 'Standard Normal Quantiles', 'Residual quantiles', -5, 5, quantileTickValues),
    plugins: [framePlugin, textPlugin],
  };
}

function scatterConfig(col: number) {
  const flat = [rgfScatter, wgfScatter, lgfScatter][col];
  return {
    type: 'scatter',
    data: {
      datasets: [
        {
          data: pairsToPoints(flat),
          pointStyle: 'rect',
          pointRadius: 1.55,
          pointBorderWidth: 0,
          pointBackgroundColor: '#000',
          pointBorderColor: '#000',
        },
      ],
    },
    options: baseOptions(1, col, modelNames[col], 'Predicted values', 'Residuals', 0, 0.4, predictedTickValues),
    plugins: [framePlugin, textPlugin],
  };
}

function Panel({ row, col }: { row: number; col: number }) {
  const ref = useRef<HTMLCanvasElement | null>(null);
  const c = COLS[col];
  const r = ROWS[row];
  const yW = yAxisWidth(row, col);
  const width = yW + c.width + RIGHT_PAD;
  const height = r.plotTop + r.plotH + X_AXIS_H;
  const left = c.left - yW;
  useEffect(() => {
    if (!ref.current) return;
    const cfg: any = row === 0 ? qqConfig(col) : scatterConfig(col);
    const chart = new Chart(ref.current, cfg);
    return () => chart.destroy();
  }, [row, col]);
  return (
    <canvas
      ref={ref}
      width={width}
      height={height}
      style={{ position: 'absolute', left, top: r.canvasTop, width, height, display: 'block' }}
    />
  );
}

export default function App() {
  return (
    <div
      style={{
        position: 'absolute',
        left: 0,
        top: 0,
        width: 842,
        height: 524,
        overflow: 'hidden',
        background: '#fff',
      }}
    >
      {[0, 1].map((row) => [0, 1, 2].map((col) => <Panel key={`${row}-${col}`} row={row} col={col} />))}
    </div>
  );
}
